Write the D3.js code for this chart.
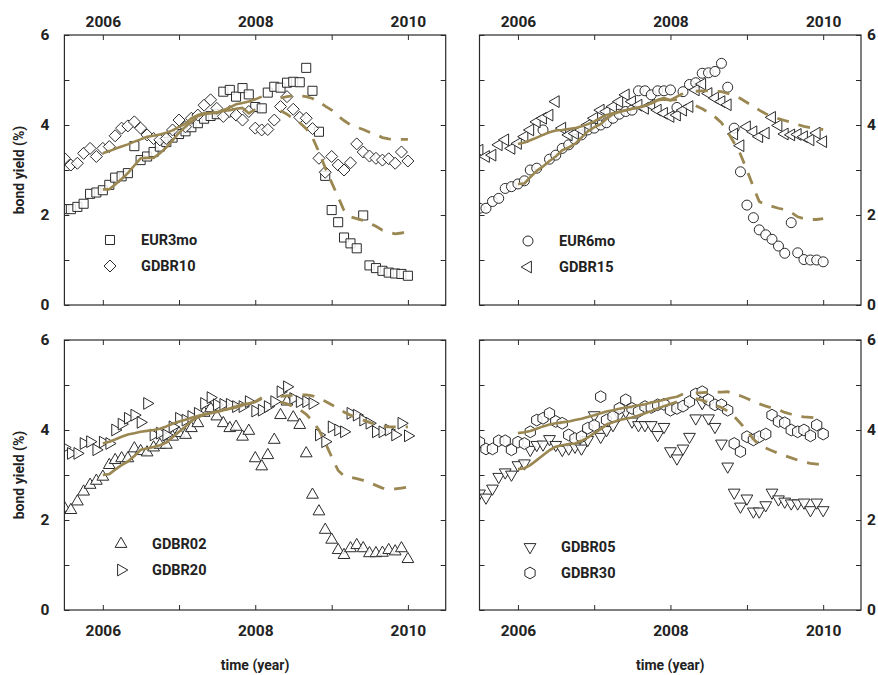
<!DOCTYPE html>
<html>
<head>
<meta charset="utf-8">
<script src="https://cdn.jsdelivr.net/npm/d3@7"></script>
<style>
body { margin: 0; background: #fff; }
text { font-family: Roboto, "Liberation Sans", sans-serif; font-weight: 700; fill: #222; }
</style>
</head>
<body>
<svg id="chart" width="878" height="675"></svg>
<script>
// month-end yields, Jul 2005 .. Jan 2010 (55 months)
var months = d3.timeMonth.range(new Date(2005, 6, 1), new Date(2010, 1, 1));
var solidStart = 6;   // Jan 2006
var dashStart = 34;   // May 2008

var yearTicks = [2006, 2007, 2008, 2009, 2010];
var yieldTicks = [0, 1, 2, 3, 4, 5, 6];

var eur3mo = [2.13,2.13,2.18,2.25,2.47,2.50,2.55,2.67,2.83,2.86,2.93,3.53,3.22,3.30,3.40,3.52,3.62,3.72,3.80,3.86,
  3.95,4.04,4.14,4.20,4.24,4.74,4.78,4.63,4.82,4.68,4.40,4.37,4.72,4.85,4.83,4.94,4.96,4.95,5.27,4.76,
  3.85,2.87,2.11,1.84,1.50,1.37,1.26,1.99,0.88,0.82,0.76,0.72,0.70,0.69,0.65];
var gdbr10 = [3.26,3.11,3.15,3.37,3.48,3.30,3.48,3.52,3.76,3.93,3.98,4.07,3.93,3.78,3.70,3.67,3.70,3.89,4.11,3.96,
  4.15,4.22,4.44,4.56,4.37,4.19,4.30,4.22,4.11,4.30,3.93,3.89,3.90,4.11,4.41,4.63,4.35,4.17,4.15,3.92,
  3.26,2.95,3.30,3.11,3.00,3.16,3.58,3.40,3.31,3.26,3.22,3.25,3.15,3.40,3.20];
var eur6mo = [2.15,2.15,2.30,2.37,2.59,2.63,2.69,2.76,3.00,3.04,3.89,3.24,3.33,3.48,3.56,3.68,3.78,3.89,3.93,4.00,
  4.05,4.15,4.24,4.30,4.33,4.76,4.76,4.67,4.76,4.76,4.78,4.39,4.74,4.90,4.94,5.15,5.16,5.19,5.37,4.84,
  3.93,2.96,2.22,1.94,1.67,1.56,1.46,1.31,1.15,1.83,1.16,1.01,1.00,1.00,0.96];
var gdbr15 = [3.44,3.30,3.33,3.56,3.67,3.48,3.59,3.74,3.89,4.07,4.15,4.22,4.52,3.93,3.78,3.81,3.89,4.00,4.15,4.33,
  4.30,4.41,4.52,4.67,4.52,4.44,4.37,4.44,4.33,4.26,4.19,4.22,4.33,4.41,4.78,4.91,4.70,4.60,4.52,4.45,
  3.80,3.54,3.96,3.85,3.74,3.82,4.17,3.99,3.80,3.78,3.79,3.74,3.67,3.82,3.63];
var gdbr02 = [2.27,2.22,2.41,2.63,2.78,2.87,2.96,3.22,3.33,3.37,3.37,3.59,3.53,3.50,3.61,3.67,3.67,3.85,3.93,3.89,
  4.04,4.15,4.38,4.48,4.30,4.15,4.04,4.07,3.85,3.98,3.37,3.19,3.44,3.78,4.33,4.63,4.28,4.11,3.48,2.56,
  2.19,1.78,1.56,1.33,1.22,1.37,1.44,1.37,1.26,1.26,1.27,1.33,1.30,1.37,1.13];
var gdbr20 = [3.61,3.48,3.48,3.70,3.74,3.56,3.73,3.70,4.00,4.13,4.26,4.33,4.17,4.59,3.89,3.93,3.89,4.07,4.26,4.22,
  4.30,4.37,4.59,4.72,4.56,4.57,4.57,4.52,4.52,4.63,4.42,4.44,4.52,4.63,4.85,4.96,4.70,4.63,4.63,4.59,
  3.89,3.74,4.07,4.00,3.96,4.37,4.33,4.22,4.15,3.96,3.96,4.00,3.89,4.15,3.87];
var gdbr05 = [2.59,2.50,2.70,2.96,3.06,3.01,3.22,3.26,3.56,3.67,3.68,3.80,3.67,3.56,3.59,3.63,3.59,3.78,4.33,3.85,
  4.00,4.11,4.33,4.41,4.19,4.11,4.11,4.11,3.89,4.07,3.53,3.37,3.59,3.85,4.26,4.60,4.26,4.07,3.70,3.19,
  2.61,2.30,2.48,2.19,2.19,2.33,2.61,2.46,2.41,2.37,2.37,2.39,2.22,2.39,2.22];
var gdbr30 = [3.73,3.58,3.58,3.76,3.76,3.56,3.73,3.70,3.96,4.22,4.26,4.37,4.19,4.15,3.89,3.81,3.85,4.04,4.10,4.74,
  4.22,4.30,4.48,4.67,4.48,4.41,4.52,4.50,4.56,4.57,4.44,4.48,4.53,4.63,4.80,4.85,4.67,4.56,4.56,4.44,
  3.70,3.52,3.85,3.78,3.85,3.91,4.33,4.19,4.16,4.00,3.96,4.00,3.87,4.11,3.91];

// smoothed curves: solid from Jan 2006, dashed from May 2008
var eur3moSolid = [2.57,2.57,2.68,2.80,2.93,3.10,3.26,3.27,3.27,3.37,3.50,3.66,3.83,3.96,4.07,4.20,4.24,4.26,4.27,4.31,4.33,4.36,4.38,4.26,4.35];
var gdbr10Solid = [3.37,3.42,3.47,3.52,3.57,3.63,3.68,3.74,3.76,3.79,3.83,3.88,3.96,4.03,4.15,4.22,4.26,4.27,4.28,4.33,4.39,4.46,4.49,4.52,4.57,4.63];
var gdbr10Dash = [4.60,4.63,4.65,4.65,4.63,4.59,4.52,4.42,4.33,4.20,4.10,4.00,3.95,3.90,3.84,3.79,3.72,3.69,3.68,3.68,3.68];
var eur3moDash = [4.32,4.24,4.14,4.05,3.92,3.72,3.40,3.05,2.72,2.40,2.10,1.96,1.92,1.88,1.82,1.75,1.66,1.62,1.58,1.60,1.63];

var eur6moSolid = [2.69,2.70,2.84,2.98,3.08,3.20,3.30,3.44,3.50,3.58,3.72,3.86,3.95,4.02,4.14,4.24,4.30,4.33,4.36,4.39,4.43,4.48,4.56,4.60,4.55,4.56];
var gdbr15Solid = [3.58,3.61,3.66,3.72,3.78,3.84,3.88,3.89,3.91,3.93,3.97,4.02,4.08,4.16,4.22,4.26,4.29,4.33,4.36,4.39,4.43,4.48,4.55,4.57,4.55,4.63,4.70];
var gdbr15Dash = [4.75,4.76,4.76,4.75,4.74,4.70,4.66,4.59,4.50,4.41,4.33,4.25,4.19,4.14,4.10,4.06,4.01,3.97,3.94,3.92,3.90];
var eur6moDash = [4.43,4.36,4.28,4.18,4.05,3.85,3.60,3.35,3.00,2.62,2.30,2.22,2.19,2.15,2.12,2.06,1.96,1.92,1.90,1.90,1.92];

var gdbr02Solid = [3.00,3.02,3.12,3.22,3.30,3.42,3.56,3.59,3.62,3.66,3.72,3.84,3.96,4.08,4.20,4.28,4.34,4.37,4.40,4.44,4.47,4.50,4.55,4.59,4.62,4.70];
var gdbr20Solid = [3.70,3.74,3.79,3.85,3.90,3.93,3.96,3.98,4.00,4.03,4.08,4.14,4.19,4.23,4.27,4.31,4.35,4.38,4.41,4.45,4.48,4.52,4.57,4.59,4.63,4.72];
var gdbr20Dash = [4.75,4.76,4.77,4.78,4.78,4.76,4.70,4.64,4.56,4.48,4.40,4.33,4.27,4.22,4.17,4.12,4.08,4.07,4.07,4.07,4.07];
var gdbr02Dash = [4.62,4.58,4.52,4.45,4.35,4.20,4.00,3.72,3.40,3.10,2.98,2.95,2.92,2.88,2.83,2.77,2.71,2.68,2.69,2.71,2.73];

var gdbr05Solid = [3.13,3.15,3.22,3.33,3.44,3.55,3.63,3.66,3.69,3.70,3.76,3.83,3.93,4.02,4.12,4.17,4.22,4.25,4.28,4.32,4.37,4.42,4.48,4.53,4.58,4.63];
var gdbr30Solid = [3.93,3.95,3.98,4.03,4.08,4.12,4.15,4.17,4.19,4.22,4.25,4.29,4.33,4.37,4.41,4.44,4.47,4.50,4.52,4.55,4.57,4.61,4.64,4.67,4.71,4.74,4.80];
var gdbr30Dash = [4.82,4.83,4.84,4.84,4.84,4.85,4.80,4.76,4.70,4.64,4.58,4.53,4.49,4.45,4.39,4.35,4.31,4.29,4.28,4.27,4.26];
var gdbr05Dash = [4.70,4.66,4.60,4.55,4.50,4.42,4.30,4.15,3.98,3.80,3.66,3.60,3.54,3.48,3.43,3.38,3.33,3.29,3.26,3.24,3.25];

var olive = "#9a8751";
var ink = "#2a2a2a";

function poly(n, r, rot) {
    var pts = d3.range(n).map(function (k) {
        var a = rot + k * 2 * Math.PI / n;
        return [r * Math.cos(a), r * Math.sin(a)];
    });
    return "M" + pts.map(p => p[0].toFixed(2) + "," + p[1].toFixed(2)).join("L") + "Z";
}
function markerPath(type) {
    if (type === "square") return poly(4, 6.4, Math.PI / 4);
    if (type === "diamond") return poly(4, 6, 0);
    if (type === "up") return poly(3, 6.8, -Math.PI / 2);
    if (type === "down") return poly(3, 6.8, Math.PI / 2);
    if (type === "left") return poly(3, 6.8, Math.PI);
    if (type === "right") return poly(3, 6.8, 0);
    if (type === "hexagon") return poly(6, 5.9, -Math.PI / 2);
    return "M5,0A5,5 0 1 1 -5,0A5,5 0 1 1 5,0Z";
}

var panels = [
    { x0: 64.4, x1: 445.7, y0: 35, y1: 305, row: 0, col: 0,
      series: [{ name: "EUR3mo", values: eur3mo, sym: "square" }, { name: "GDBR10", values: gdbr10, sym: "diamond" }],
      solid: [eur3moSolid, gdbr10Solid], dash: [gdbr10Dash, eur3moDash], legend: [110, 240] },
    { x0: 479.5, x1: 861, y0: 35, y1: 305, row: 0, col: 1,
      series: [{ name: "EUR6mo", values: eur6mo, sym: "circle" }, { name: "GDBR15", values: gdbr15, sym: "left" }],
      solid: [eur6moSolid, gdbr15Solid], dash: [gdbr15Dash, eur6moDash], legend: [528, 241] },
    { x0: 64.4, x1: 445.7, y0: 340, y1: 610, row: 1, col: 0,
      series: [{ name: "GDBR02", values: gdbr02, sym: "up" }, { name: "GDBR20", values: gdbr20, sym: "right" }],
      solid: [gdbr02Solid, gdbr20Solid], dash: [gdbr20Dash, gdbr02Dash], legend: [121, 544] },
    { x0: 479.5, x1: 861, y0: 340, y1: 610, row: 1, col: 1,
      series: [{ name: "GDBR05", values: gdbr05, sym: "down" }, { name: "GDBR30", values: gdbr30, sym: "hexagon" }],
      solid: [gdbr05Solid, gdbr30Solid], dash: [gdbr30Dash, gdbr05Dash], legend: [530, 547] }
];

var svg = d3.select("#chart");

function styleAxis(g, size) {
    g.attr("font-family", null).attr("font-size", null);
    g.select(".domain").remove();
    g.selectAll(".tick line").attr("stroke", ink).attr("stroke-width", 1);
    g.selectAll(".tick text").style("font-size", size + "px").attr("fill", "#222");
}

panels.forEach(function (p, pi) {
    var x = d3.scaleTime().domain([new Date(2005, 6, 1), new Date(2010, 6, 1)]).range([p.x0, p.x1]);
    var y = d3.scaleLinear().domain([0, 6]).range([p.y1, p.y0]);
    var years = yearTicks.map(yr => new Date(yr, 0, 1));
    var evenYear = d => d.getFullYear() % 2 === 0 ? d.getFullYear() : "";
    var evenYield = d => d % 2 === 0 ? d : "";

    var g = svg.append("g");

    g.append("clipPath").attr("id", "clip" + pi)
        .append("rect").attr("x", p.x0).attr("y", p.y0)
        .attr("width", p.x1 - p.x0).attr("height", p.y1 - p.y0);

    var plot = g.append("g").attr("clip-path", "url(#clip" + pi + ")");

    // markers
    p.series.forEach(function (s) {
        plot.selectAll(null)
            .data(s.values).enter().append("path")
            .attr("d", markerPath(s.sym))
            .attr("transform", (v, i) => "translate(" + x(months[i]) + "," + y(v) + ")")
            .attr("fill", "#fff").attr("fill-opacity", 0.85)
            .attr("stroke", ink).attr("stroke-width", 1);
    });

    // smoothed curves
    var line = d3.line().x(d => x(d[0])).y(d => y(d[1]));
    p.solid.forEach(function (vals) {
        plot.append("path")
            .attr("d", line(vals.map((v, i) => [months[solidStart + i], v])))
            .attr("fill", "none").attr("stroke", olive).attr("stroke-width", 2.6)
            .attr("stroke-linejoin", "round");
    });
    p.dash.forEach(function (vals) {
        plot.append("path")
            .attr("d", line(vals.map((v, i) => [months[dashStart + i], v])))
            .attr("fill", "none").attr("stroke", olive).attr("stroke-width", 2.8)
            .attr("stroke-dasharray", "12,10");
    });

    // frame
    g.append("rect").attr("x", p.x0).attr("y", p.y0)
        .attr("width", p.x1 - p.x0).attr("height", p.y1 - p.y0)
        .attr("fill", "none").attr("stroke", ink).attr("stroke-width", 1.2);

    // axes with inward ticks
    g.append("g").attr("transform", "translate(0," + p.y0 + ")")
        .call(d3.axisTop(x).tickValues(years).tickSize(-5).tickPadding(8)
            .tickFormat(p.row === 0 ? evenYear : () => ""))
        .call(styleAxis, 15.5);
    g.append("g").attr("transform", "translate(0," + p.y1 + ")")
        .call(d3.axisBottom(x).tickValues(years).tickSize(-5).tickPadding(15)
            .tickFormat(p.row === 1 ? evenYear : () => ""))
        .call(styleAxis, 15.5);
    g.append("g").attr("transform", "translate(" + p.x0 + ",0)")
        .call(d3.axisLeft(y).tickValues(yieldTicks).tickSize(-5).tickPadding(15)
            .tickFormat(p.col === 0 ? evenYield : () => ""))
        .call(styleAxis, 15.5);
    g.append("g").attr("transform", "translate(" + p.x1 + ",0)")
        .call(d3.axisRight(y).tickValues(yieldTicks).tickSize(-5).tickPadding(6)
            .tickFormat(p.col === 1 ? evenYield : () => ""))
        .call(styleAxis, 15.5);

    // legend
    p.series.forEach(function (s, k) {
        var ly = p.legend[1] + k * 26;
        g.append("path").attr("d", markerPath(s.sym))
            .attr("transform", "translate(" + p.legend[0] + "," + ly + ")")
            .attr("fill", "#fff").attr("stroke", ink).attr("stroke-width", 1);
        g.append("text").attr("x", p.legend[0] + 31).attr("y", ly)
            .attr("dy", "0.36em").style("font-size", "14.5px").text(s.name);
    });

    if (p.col === 0) {
        g.append("text")
            .attr("transform", "translate(19," + ((p.y0 + p.y1) / 2) + ") rotate(-90)")
            .attr("text-anchor", "middle").attr("dy", "0.35em")
            .style("font-size", "14px").text("bond yield (%)");
    }
    if (p.row === 1) {
        g.append("text")
            .attr("x", (p.x0 + p.x1) / 2).attr("y", 670)
            .attr("text-anchor", "middle")
            .style("font-size", "14px").text("time (year)");
    }
});
</script>
</body>
</html>
